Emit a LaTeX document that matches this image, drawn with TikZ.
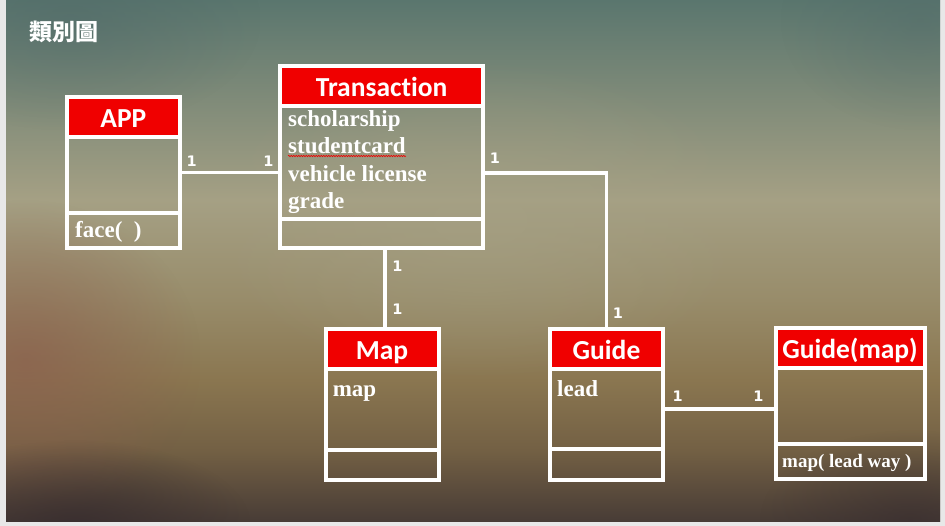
\documentclass[tikz,border=0pt]{standalone}
\usepackage{fontspec}
\setmainfont{Liberation Serif}
\newfontfamily\hdfont{Carlito}[Ligatures=NoCommon]
\newfontfamily\multfont{DejaVu Sans}
\newfontfamily\cjk{Noto Sans CJK TC}
\usetikzlibrary{positioning,fadings,decorations.pathmorphing}

\definecolor{pagegray}{RGB}{232,232,232}
\definecolor{umlred}{RGB}{240,0,0}
\definecolor{bga}{RGB}{90,118,110}
\definecolor{bgb}{RGB}{165,160,132}
\definecolor{bgc}{RGB}{152,140,106}
\definecolor{bgd}{RGB}{138,118,80}
\definecolor{bge}{RGB}{115,96,68}
\definecolor{bgf}{RGB}{72,60,54}
\definecolor{blobred}{RGB}{140,95,78}
\definecolor{blobteal}{RGB}{78,104,104}
\definecolor{blobdark}{RGB}{55,44,46}

\pgfdeclareverticalshading{slidebg}{100bp}{color(0bp)=(bgf); color(25bp)=(bgf);
  color(31.8bp)=(bge); color(38.5bp)=(bgd); color(46.2bp)=(bgc);
  color(55.8bp)=(bgb); color(75bp)=(bga); color(100bp)=(bga)}
\tikzfading[name=blobfade, inner color=transparent!0, outer color=transparent!100]

\begin{document}
\begin{tikzpicture}[x=1pt,y=-1pt,
  box/.style={draw=white, line width=4pt, inner sep=0pt, outer sep=0pt},
  hd/.style={box, fill=umlred, text=white, font=\hdfont\bfseries\fontsize{27.5}{27.5}\selectfont,
             text height=21pt, text depth=0pt},
  cmp/.style={box},
  attr/.style={text=white, font=\bfseries\fontsize{23}{23}\selectfont, inner sep=0pt, anchor=base west},
  mult/.style={text=white, font=\multfont\bfseries\fontsize{14.5}{14.5}\selectfont, inner sep=0pt},
  link/.style={draw=white, line width=3.5pt}]

% slide background
\fill[pagegray] (0,0) rectangle (945,526);
\shade[shading=slidebg] (6,0) rectangle (940,521);
\begin{scope}
\clip (6,0) rectangle (940,521);
\fill[bgb, path fading=blobfade, fill opacity=.6] (200,60) rectangle (760,380);
\fill[blobred, path fading=blobfade, fill opacity=.7] (-150,200) rectangle (200,520);
\fill[blobteal, path fading=blobfade, fill opacity=.5] (-120,-90) rectangle (260,130);
\fill[blobteal, path fading=blobfade, fill opacity=.4] (780,-90) rectangle (1060,130);
\fill[blobdark, path fading=blobfade, fill opacity=.8] (-100,440) rectangle (250,610);
\fill[blobdark, path fading=blobfade, fill opacity=.6] (760,430) rectangle (1060,610);
\end{scope}

\node[text=white, font=\cjk\bfseries\fontsize{23}{23}\selectfont, inner sep=0pt, anchor=west] (title) at (29,32) {類別圖};

% APP
\node[hd, minimum width=112.7pt, minimum height=39.7pt, anchor=north west] (appH) at (67,97.3) {APP};
\node[cmp, minimum width=112.7pt, minimum height=75.8pt, below=0pt of appH] (appA) {};
\node[cmp, minimum width=112.7pt, minimum height=34.9pt, below=0pt of appA] (appM) {};
\node[attr] (appm1) at (75,237.3) {face(\ \ )};

% Transaction
\node[hd, minimum width=202.7pt, minimum height=40pt, anchor=north west] (trH) at (280.3,66.3) {Transaction};
\node[cmp, minimum width=202.7pt, minimum height=113.2pt, below=0pt of trH] (trA) {};
\node[cmp, minimum width=202.7pt, minimum height=28.2pt, below=0pt of trA] (trM) {};
\foreach \t [count=\i] in {scholarship, studentcard, vehicle license, grade}
  \node[attr] (trt\i) at (288,{99.4+27.3*\i}) {\t};
\draw[umlred, line width=.6pt, decorate, decoration={snake, amplitude=.7pt, segment length=2.5pt}]
  ([yshift=-2pt]trt2.base west) -- ([yshift=-2pt]trt2.base east);

% Map
\node[hd, minimum width=113pt, minimum height=39.8pt, anchor=north west] (mapH) at (325.5,329) {Map};
\node[cmp, minimum width=113pt, minimum height=81.2pt, below=0pt of mapH] (mapA) {};
\node[cmp, minimum width=113pt, minimum height=29.5pt, below=0pt of mapA] (mapM) {};
\node[attr] (mapa1) at (332.6,397) {map};

% Guide
\node[hd, minimum width=113pt, minimum height=39.8pt, anchor=north west] (guideH) at (550,329) {Guide};
\node[cmp, minimum width=113pt, minimum height=80.2pt, below=0pt of guideH] (guideA) {};
\node[cmp, minimum width=113pt, minimum height=30.5pt, below=0pt of guideA] (guideM) {};
\node[attr] (guidea1) at (557,396) {lead};

% Guide(map)
\node[hd, minimum width=149pt, minimum height=40pt, anchor=north west] (gmH) at (775.5,328) {Guide(map)};
\node[cmp, minimum width=149pt, minimum height=76pt, below=0pt of gmH] (gmA) {};
\node[cmp, minimum width=149pt, minimum height=34.7pt, below=0pt of gmA] (gmM) {};
\node[attr, font=\bfseries\fontsize{19}{19}\selectfont] (gmm1) at (782,467) {map( lead way )};

% links
\coordinate (lk1) at (0,172.3);
\coordinate (lk2) at (0,173);
\coordinate (lk3) at (384.8,0);
\draw[link] (appA.east |- lk1) -- (trA.west |- lk1);
\draw[link] (trA.east |- lk2) -| (guideH.north);
\draw[link] (trM.south -| lk3) -- (mapH.north -| lk3);
\draw[link] (guideA.east) -- (guideA.east -| gmA.west);

% multiplicities
\node[mult] (m1) at (191.7,161) {1};
\node[mult] (m2) at (268.3,161) {1};
\node[mult] (m3) at (495,158) {1};
\node[mult] (m4) at (617.8,313.3) {1};
\node[mult] (m5) at (397.4,266.7) {1};
\node[mult] (m6) at (397.4,309) {1};
\node[mult] (m7) at (677.6,396.3) {1};
\node[mult] (m8) at (758.5,396.3) {1};
\end{tikzpicture}
\end{document}
